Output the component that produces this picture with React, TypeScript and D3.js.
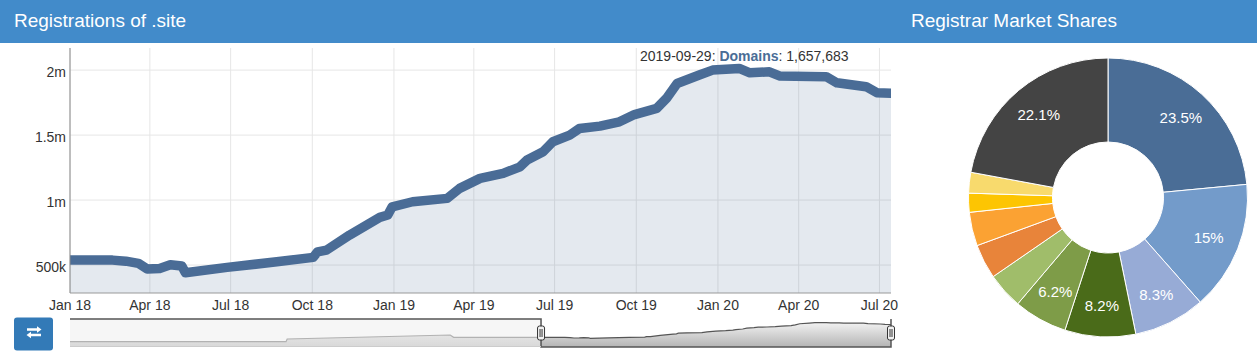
import React from "react";
import * as d3 from "d3";

// ---- Registrations of .site (daily totals) ----
const regDates = [
  "2014-08-05", "2016-02-27", "2016-03-01", "2017-05-06", "2017-05-15",
  "2018-01-01", "2018-02-18", "2018-03-05", "2018-03-19", "2018-03-29", "2018-04-12",
  "2018-04-24", "2018-05-07", "2018-05-11", "2018-06-27", "2018-08-22",
  "2018-10-02", "2018-10-07", "2018-10-17", "2018-11-12", "2018-12-16",
  "2018-12-25", "2018-12-30", "2019-01-22", "2019-03-02", "2019-03-16",
  "2019-04-08", "2019-05-04", "2019-05-23", "2019-05-31", "2019-06-18",
  "2019-06-29", "2019-07-18", "2019-07-29", "2019-08-21", "2019-09-12",
  "2019-09-29", "2019-10-24", "2019-11-04", "2019-11-16", "2019-12-11",
  "2019-12-26", "2020-01-25", "2020-02-06", "2020-02-28", "2020-03-11",
  "2020-05-02", "2020-05-14", "2020-06-16", "2020-06-28", "2020-07-14",
];
const regValues = [
  100000, 100000, 370000, 770000, 540000,
  538000, 538000, 530000, 513000, 469000, 474000,
  502000, 492000, 441000, 482000, 525000,
  559000, 602000, 615000, 731000, 867000,
  885000, 948000, 987000, 1013000, 1090000,
  1167000, 1205000, 1256000, 1308000, 1372000,
  1449000, 1500000, 1551000, 1569000, 1602000,
  1657683, 1705000, 1782000, 1897000, 1962000,
  2000000, 2013000, 1979000, 1987000, 1954000,
  1949000, 1902000, 1872000, 1826000, 1821000,
];
const mainStartDate = "2018-01-01";
const yDomain = [285000, 2170000];
const yTickValues = [500000, 1000000, 1500000, 2000000];
const yTickLabels = ["500k", "1m", "1.5m", "2m"];
const navYDomain = [0, 2000000];

const tooltipDate = "2019-09-29";
const tooltipSeries = "Domains";
const tooltipValue = 1657683;

// ---- Registrar market shares ----
const shareValues = [23.5, 15, 8.3, 8.2, 6.2, 4.2, 4.0, 3.9, 2.2, 2.4, 22.1];
const shareColors = [
  "#4a6d96", "#739bca", "#97abd6", "#4a6b19", "#7e9c48", "#a0bd6a",
  "#e8843a", "#fba233", "#fdc502", "#f8da6d", "#444444",
];

const FONT = "'Liberation Sans', Arial, Helvetica, sans-serif";

export default function App() {
  const parse = d3.timeParse("%Y-%m-%d");
  const data = regDates.map((d, i) => ({ date: parse(d) as Date, value: regValues[i] }));
  const mainStart = parse(mainStartDate) as Date;
  const mainData = data.filter((d) => d.date >= mainStart);
  const lastDate = data[data.length - 1].date;

  const plot = { left: 70, right: 891, top: 48, bottom: 293 };
  const x = d3.scaleTime().domain([mainStart, lastDate]).range([plot.left, plot.right]);
  const y = d3.scaleLinear().domain(yDomain).range([plot.bottom, plot.top]);

  const xTicks = x.ticks(d3.timeMonth.every(3) as any);
  const fmt = d3.timeFormat("%b %y");

  const line = d3
    .line<{ date: Date; value: number }>()
    .x((d) => x(d.date))
    .y((d) => y(d.value));
  const area = d3
    .area<{ date: Date; value: number }>()
    .x((d) => x(d.date))
    .y0(plot.bottom)
    .y1((d) => y(d.value));

  // navigator
  const nav = { left: 70, right: 891, top: 319, bottom: 347 };
  const navX = d3.scaleTime().domain([data[0].date, lastDate]).range([nav.left, nav.right]);
  const navY = d3.scaleLinear().domain(navYDomain).range([342.7, 322.7]);
  const navLine = d3
    .line<{ date: Date; value: number }>()
    .x((d) => navX(d.date))
    .y((d) => navY(d.value));
  const navArea = d3
    .area<{ date: Date; value: number }>()
    .x((d) => navX(d.date))
    .y0(nav.bottom)
    .y1((d) => navY(d.value));
  const selA = navX(mainStart);
  const selB = navX(lastDate);

  // pie
  const cx = 1108;
  const cy = 197.5;
  const outerR = 139.5;
  const innerR = 55.5;
  const pie = d3.pie<number>().sort(null).value((d) => d);
  const arcs = pie(shareValues);
  const arc = d3.arc<d3.PieArcDatum<number>>().innerRadius(innerR).outerRadius(outerR);
  const labelArc = d3.arc<d3.PieArcDatum<number>>().innerRadius(77).outerRadius(outerR);

  const handle = (hx: number, key: string) => (
    <g key={key}>
      <rect x={hx - 3.5} y={326} width={7} height={14} rx={2} fill="#f2f2f2" stroke="#333" strokeWidth={1} />
      <line x1={hx - 1} x2={hx - 1} y1={329} y2={337} stroke="#333" strokeWidth={1} />
      <line x1={hx + 1} x2={hx + 1} y1={329} y2={337} stroke="#333" strokeWidth={1} />
    </g>
  );

  return (
    <>
      <style>{`body{margin:0;}`}</style>
      <svg width={1257} height={360} style={{ display: "block", fontFamily: FONT }}>
        <defs>
          <clipPath id="plotClip">
            <rect x={plot.left} y={plot.top - 10} width={plot.right - plot.left} height={plot.bottom - plot.top + 10} />
          </clipPath>
          <clipPath id="navClip">
            <rect x={nav.left} y={nav.top} width={nav.right - nav.left} height={nav.bottom - nav.top} />
          </clipPath>
          <linearGradient id="navGrad" x1="0" y1="0" x2="0" y2="1">
            <stop offset="0" stopColor="#f2f2f2" />
            <stop offset="1" stopColor="#b4b4b4" />
          </linearGradient>
        </defs>

        {/* header */}
        <rect x={0} y={0} width={1257} height={43} fill="#428bca" />
        <text x={14} y={27} fill="#fff" fontSize={19}>Registrations of .site</text>
        <text x={911} y={27} fill="#fff" fontSize={19}>Registrar Market Shares</text>

        {/* grid */}
        {yTickValues.map((v) => (
          <line key={"gy" + v} x1={plot.left} x2={plot.right} y1={y(v)} y2={y(v)} stroke="#e6e6e6" strokeWidth={1} />
        ))}
        {xTicks.map((t) => (
          <line key={"gx" + +t} x1={x(t)} x2={x(t)} y1={plot.top} y2={plot.bottom} stroke="#e6e6e6" strokeWidth={1} />
        ))}

        {/* series */}
        <g clipPath="url(#plotClip)">
          <path d={area(mainData) || ""} fill="#4a6d96" fillOpacity={0.15} />
          <path d={line(mainData) || ""} fill="none" stroke="#4a6c96" strokeWidth={9.5} strokeLinejoin="round" strokeLinecap="round" />
        </g>

        {/* axes */}
        <line x1={plot.left} x2={plot.left} y1={plot.top} y2={plot.bottom} stroke="#888" strokeWidth={1} />
        <line x1={plot.left} x2={plot.right} y1={plot.bottom} y2={plot.bottom} stroke="#999" strokeWidth={1} />
        {yTickValues.map((v, i) => (
          <text key={"ly" + v} x={66} y={y(v) + 6.5} textAnchor="end" fontSize={14} fill="#333">
            {yTickLabels[i]}
          </text>
        ))}
        {xTicks.map((t) => (
          <text key={"lx" + +t} x={x(t)} y={310} textAnchor="middle" fontSize={14} fill="#333">
            {fmt(t)}
          </text>
        ))}

        {/* tooltip label */}
        <text x={640} y={61} fontSize={14} fill="#333">
          <tspan>{tooltipDate}: </tspan>
          <tspan fontWeight="bold" fill="#4a6d96">{tooltipSeries}</tspan>
          <tspan>: {d3.format(",")(tooltipValue)}</tspan>
        </text>

        {/* navigator */}
        <g clipPath="url(#navClip)">
          <path d={navArea(data) || ""} fill="url(#navGrad)" />
          <path d={navLine(data) || ""} fill="none" stroke="#555" strokeWidth={1.2} />
          <rect x={nav.left} y={nav.top} width={selA - nav.left} height={nav.bottom - nav.top} fill="#f0f0f0" fillOpacity={0.6} />
        </g>
        <path
          d={`M${nav.left},${nav.top}H${selA}V${nav.bottom}H${selB}V${nav.top}`}
          fill="none"
          stroke="#555"
          strokeWidth={1.5}
        />
        <line x1={nav.left} x2={selA} y1={nav.bottom - 0.5} y2={nav.bottom - 0.5} stroke="#ccc" strokeWidth={1} />
        {handle(selA, "h1")}
        {handle(selB, "h2")}

        {/* swap button */}
        <rect x={14} y={317.5} width={39} height={33} rx={3} fill="#337ab7" />
        <g fill="#fff">
          <path d="M27,328.3 H37 V326.3 L41.5,329.5 L37,332.7 V330.7 H27 Z" />
          <path d="M41,333.8 H31 V331.8 L26.5,335 L31,338.2 V336.2 H41 Z" />
        </g>

        {/* pie */}
        <g transform={`translate(${cx},${cy})`}>
          {arcs.map((a, i) => (
            <path key={"s" + i} d={arc(a) || ""} fill={shareColors[i]} stroke="#fff" strokeWidth={1} />
          ))}
          {arcs.map((a, i) => {
            if (a.data < 5) return null;
            const [lx, ly] = labelArc.centroid(a);
            return (
              <text key={"pl" + i} x={lx} y={ly} dy="0.35em" textAnchor="middle" fontSize={15} fill="#fff">
                {`${a.data}%`}
              </text>
            );
          })}
        </g>
      </svg>
    </>
  );
}
